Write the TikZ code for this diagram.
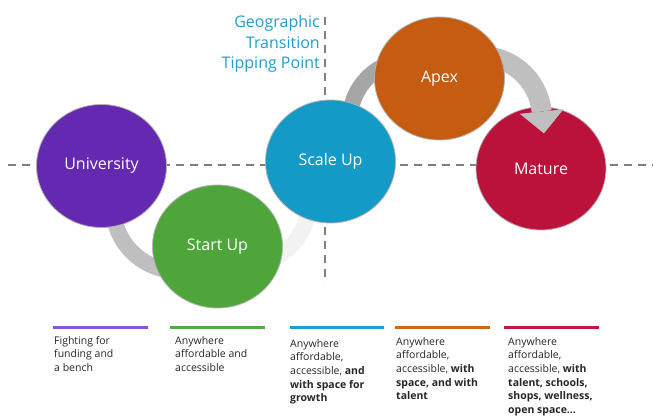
\documentclass[tikz,border=0pt]{standalone}
\usepackage{fontspec}
\setmainfont{Open Sans}
\usetikzlibrary{shapes.geometric,backgrounds,positioning}
\definecolor{uniColor}{HTML}{6429B0}
\definecolor{startColor}{HTML}{4EA63A}
\definecolor{scaleColor}{HTML}{149AC7}
\definecolor{apexColor}{HTML}{C55C12}
\definecolor{matureColor}{HTML}{BA123A}
\definecolor{uniLine}{HTML}{8E4FDA}
\definecolor{startLine}{HTML}{52AC44}
\definecolor{scaleLine}{HTML}{1BA0D6}
\definecolor{apexLine}{HTML}{CF661C}
\definecolor{matureLine}{HTML}{C8143F}
\definecolor{tipColor}{HTML}{1F9DD3}
\def \guidecolor {gray}
\def \bandpale {black!5}
\def \bandmid {black!25}
\def \banddark {black!35}

\begin{document}
\begin{tikzpicture}[x=1pt,y=1pt,
  stage/.style={ellipse,minimum width=130pt,minimum height=123pt,inner sep=0pt,
    draw=gray!60,line width=0.8pt,text=white,font=\fontsize{16}{18}\selectfont},
  guide/.style={draw=\guidecolor,line width=2pt,dash pattern=on 8pt off 6pt},
  band/.style={line width=16pt},
  note/.style={anchor=north west,align=left,inner sep=0pt,text=black!85,
    font=\fontsize{10.5}{13.7}\selectfont}]
\useasboundingbox (0,0) rectangle (653,416);

% the stages
\node[stage,fill=uniColor] (uni) at (101.5,250) {University};
\node[stage,fill=startColor] (start) at (217.5,169.5) {Start Up};
\node[stage,fill=scaleColor] (scale) at (330.5,254.5) {Scale Up};
\node[stage,fill=matureColor] (mature) at (541,247.5) {Mature};

% the arrow from apex to mature
\coordinate (hubD) at (480,298);
\draw[band,line width=20pt,\bandmid] ([shift={(110:62)}]hubD) arc[start angle=110,end angle=6,radius=62];
\coordinate (headbase) at ([shift={(6:62)}]hubD);
\fill[\bandmid] ([shift={(6:22)}]headbase) -- ([shift={(-84:22)}]headbase) -- ([shift={(-174:22)}]headbase) -- cycle;

\node[stage,fill=apexColor] (apex) at (439.5,337.5) {Apex};

\begin{scope}[on background layer]
% the dashed cross
\draw[guide] (8,251) -- (653,251);
\draw[guide] (325,399) -- (325,133);
% the arcs between the stages
\coordinate (hubA) at (178,210);
\coordinate (hubB) at (250,211);
\coordinate (hubC) at (410,296);
\draw[band,\bandmid] ([shift={(170:65)}]hubA) arc[start angle=170,end angle=270,radius=65];
\draw[band,\bandpale] ([shift={(-90:58)}]hubB) arc[start angle=-90,end angle=0,radius=58];
\draw[band,\banddark] ([shift={(190:60)}]hubC) arc[start angle=190,end angle=100,radius=60];
\end{scope}

% the tipping point
\node[anchor=north east,align=right,inner sep=0pt,text=tipColor,
  font=\fontsize{16}{20.5}\selectfont] (tipping) at (320,400.5)
  {Geographic\\Transition\\Tipping Point};

% the legend bars
\foreach \xa/\xb/\col in {53/148/uniLine,170/265/startLine,290/384/scaleLine,395/490/apexLine,504/599/matureLine}
{
\draw[\col,line width=3pt] (\xa,89) -- (\xb,89);
}

% the legend texts
\node[note] (noteUni) at (54,80) {Fighting for\\funding and\\a bench};
\node[note] (noteStart) at (175,80) {Anywhere\\affordable and\\accessible};
\node[note] (noteScale) at (290,77) {Anywhere\\affordable,\\accessible, \textbf{and}\\\textbf{with space for}\\\textbf{growth}};
\node[note] (noteApex) at (396,79) {Anywhere\\affordable,\\accessible, \textbf{with}\\\textbf{space, and with}\\\textbf{talent}};
\node[note] (noteMature) at (508,79) {Anywhere\\affordable,\\accessible, \textbf{with}\\\textbf{talent, schools,}\\\textbf{shops, wellness,}\\\textbf{open space...}};
\end{tikzpicture}
\end{document}
